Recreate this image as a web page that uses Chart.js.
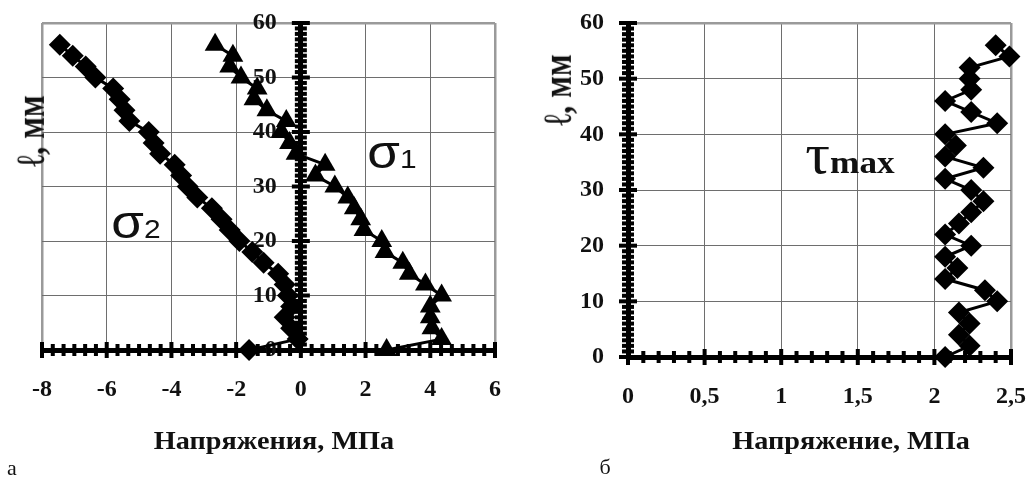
<!DOCTYPE html>
<html>
<head>
<meta charset="utf-8">
<script src="https://cdn.jsdelivr.net/npm/chart.js"></script>
<style>
body { margin: 0; background: #fff; }
#wrap { position: relative; width: 1032px; height: 482px; overflow: hidden; font-family: "Liberation Serif", serif; color: #111; }
canvas { position: absolute; top: 0; }
#chartA { left: 0; }
#chartB { left: 516px; }
.lbl { position: absolute; white-space: nowrap; transform: translate(-50%, -50%); }
.title { font-weight: bold; font-size: 25px; transform: translate(-50%, -50%) scaleX(1.13); }
.ytitle { font-weight: bold; font-size: 32px; transform: translate(-50%, -50%) rotate(-90deg) scaleY(1.25); }
.sig { font-family: "Liberation Sans", sans-serif; font-size: 46px; transform: translate(-50%, -50%) scaleX(1.15); }
.sig small { font-size: 26px; }
.tau { font-size: 56px; transform: translate(-50%, -50%) scaleX(1.1); }
.tau small { font-size: 32px; font-weight: bold; }
.letter { font-size: 22px; }
</style>
</head>
<body>
<div id="wrap">
  <canvas id="chartA" width="516" height="482"></canvas>
  <canvas id="chartB" width="516" height="482"></canvas>
  <div class="lbl title" style="left:274px; top:441px;">Напряжения, МПа</div>
  <div class="lbl title" style="left:851px; top:441px;">Напряжение, МПа</div>
  <div class="lbl ytitle" style="left:31px; top:131px;">ℓ, мм</div>
  <div class="lbl ytitle" style="left:558px; top:90px;">ℓ, мм</div>
  <div class="lbl sig" style="left:136px; top:222px;">σ<small>2</small></div>
  <div class="lbl sig" style="left:392px; top:152px;">σ<small>1</small></div>
  <div class="lbl tau" style="left:850px; top:154px;">τ<small>max</small></div>
  <div class="lbl letter" style="left:12px; top:468px;">а</div>
  <div class="lbl letter" style="left:605px; top:467px;">б</div>
</div>
<script>
// глубина, мм
var lengths = [0, 2, 4, 6, 8, 10, 12, 14, 16, 18, 20, 22, 24, 26, 28,
               30, 32, 34, 36, 38, 40, 42, 44, 46, 48, 50, 52, 54, 56];

// напряжения, МПа
var sigma1 = [2.65, 4.35, 4.05, 4.0, 4.0, 4.35, 3.85, 3.35, 3.15, 2.6, 2.5, 1.95, 1.85, 1.65, 1.45,
              1.05, 0.45, 0.75, -0.15, -0.35, -0.6, -0.45, -1.05, -1.45, -1.35, -1.85, -2.2, -2.1, -2.65];
var sigma2 = [-1.6, -0.1, -0.3, -0.5, -0.3, -0.4, -0.5, -0.7, -1.15, -1.5, -1.9, -2.2, -2.45, -2.75, -3.2,
              -3.5, -3.7, -3.9, -4.35, -4.55, -4.7, -5.3, -5.45, -5.6, -5.8, -6.35, -6.65, -7.05, -7.45];
var tauMax = [2.07, 2.23, 2.16, 2.23, 2.16, 2.41, 2.33, 2.07, 2.15, 2.07, 2.24, 2.07, 2.16, 2.24, 2.32,
              2.24, 2.07, 2.32, 2.07, 2.14, 2.07, 2.41, 2.24, 2.07, 2.24, 2.23, 2.23, 2.49, 2.40];

var xTicksA = [-8, -6, -4, -2, 0, 2, 4, 6];
var xTicksB = [0, 0.5, 1, 1.5, 2, 2.5];
var yTicks = [0, 10, 20, 30, 40, 50, 60];

function points(xs) {
  return xs.map(function (v, i) { return { x: v, y: lengths[i] }; });
}

function setTicks(list) {
  return function (scale) {
    scale.ticks = list.map(function (v) { return { value: v }; });
  };
}

function fmt(v) { return String(v).replace('.', ','); }
// подписи оси Y стоят левее оси (для оси в точке x=0 отступ не работает)
function fmtY(v) { return fmt(v) + '\u2002\u2002'; }

// без лишних полей под крайние подписи
function noPad(scale) {
  scale.paddingLeft = 0; scale.paddingRight = 0;
  scale.paddingTop = 0; scale.paddingBottom = 0;
}

// толстые оси с засечками, как в Excel
var crossTicks = {
  id: 'crossTicks',
  beforeDatasetsDraw: function (chart, args, opts) {
    var ctx = chart.ctx, xs = chart.scales.x, ys = chart.scales.y;
    var ax = xs.getPixelForValue(0), ay = ys.getPixelForValue(0);
    var n, i, p, len;
    ctx.save();
    ctx.fillStyle = '#000';
    n = Math.round((xs.max - xs.min) / opts.xMinor);
    for (i = 0; i <= n; i++) {
      p = xs.getPixelForValue(xs.min + i * opts.xMinor);
      len = (i % opts.xEvery === 0) ? 8 : 6;
      ctx.fillRect(p - 2, ay - len, 4, len * 2);
    }
    n = Math.round((ys.max - ys.min) / opts.yMinor);
    for (i = 0; i <= n; i++) {
      p = ys.getPixelForValue(ys.min + i * opts.yMinor);
      len = (i % opts.yEvery === 0) ? 9 : 6;
      ctx.fillRect(ax - len, p - 2, len * 2, 4);
    }
    ctx.restore();
  }
};

function gridColor(c) {
  return (c.index === 0 || c.index === c.scale.ticks.length - 1) ? '#9a9a9a' : '#6e6e6e';
}
function gridWidth(c) {
  return (c.index === 0 || c.index === c.scale.ticks.length - 1) ? 2.5 : 1;
}

var tickFont = { family: 'Liberation Serif', size: 24, weight: 'bold' };

function makeOptions(xMin, xMax, xList, pad, tickOpts) {
  return {
    responsive: false,
    animation: false,
    events: [],
    layout: { padding: pad },
    plugins: { legend: { display: false }, tooltip: { enabled: false }, crossTicks: tickOpts },
    scales: {
      x: {
        type: 'linear', min: xMin, max: xMax,
        position: { y: 0 },
        afterBuildTicks: setTicks(xList),
        afterFit: noPad,
        grid: { color: gridColor, lineWidth: gridWidth, drawTicks: false },
        border: { display: true, color: '#000', width: 5 },
        ticks: { font: tickFont, color: '#111', padding: 25, maxRotation: 0, callback: fmt }
      },
      y: {
        type: 'linear', min: 0, max: 60,
        position: { x: 0 },
        afterBuildTicks: setTicks(yTicks),
        afterFit: noPad,
        grid: { color: gridColor, lineWidth: gridWidth, drawTicks: false },
        border: { display: true, color: '#000', width: 5 },
        ticks: { font: tickFont, color: '#111', padding: 0, callback: fmtY }
      }
    }
  };
}

function lineSet(data, style, r) {
  return {
    data: points(data),
    showLine: true,
    borderColor: '#000',
    borderWidth: 3,
    backgroundColor: '#000',
    pointBackgroundColor: '#000',
    pointBorderColor: '#000',
    pointBorderWidth: 0,
    pointStyle: style,
    pointRadius: r,
    tension: 0,
    clip: false
  };
}

new Chart(document.getElementById('chartA'), {
  type: 'scatter',
  data: { datasets: [lineSet(sigma2, 'rectRot', 11), lineSet(sigma1, 'triangle', 12)] },
  options: makeOptions(-8, 6, xTicksA, { left: 42, top: 23, right: 21, bottom: 132 },
    { xMinor: 1 / 3, xEvery: 6, yMinor: 1, yEvery: 10 }),
  plugins: [crossTicks]
});

new Chart(document.getElementById('chartB'), {
  type: 'scatter',
  data: { datasets: [lineSet(tauMax, 'rectRot', 11)] },
  options: makeOptions(0, 2.5, xTicksB, { left: 112, top: 23, right: 21, bottom: 125 },
    { xMinor: 0.1, xEvery: 5, yMinor: 1, yEvery: 10 }),
  plugins: [crossTicks]
});
</script>
</body>
</html>
